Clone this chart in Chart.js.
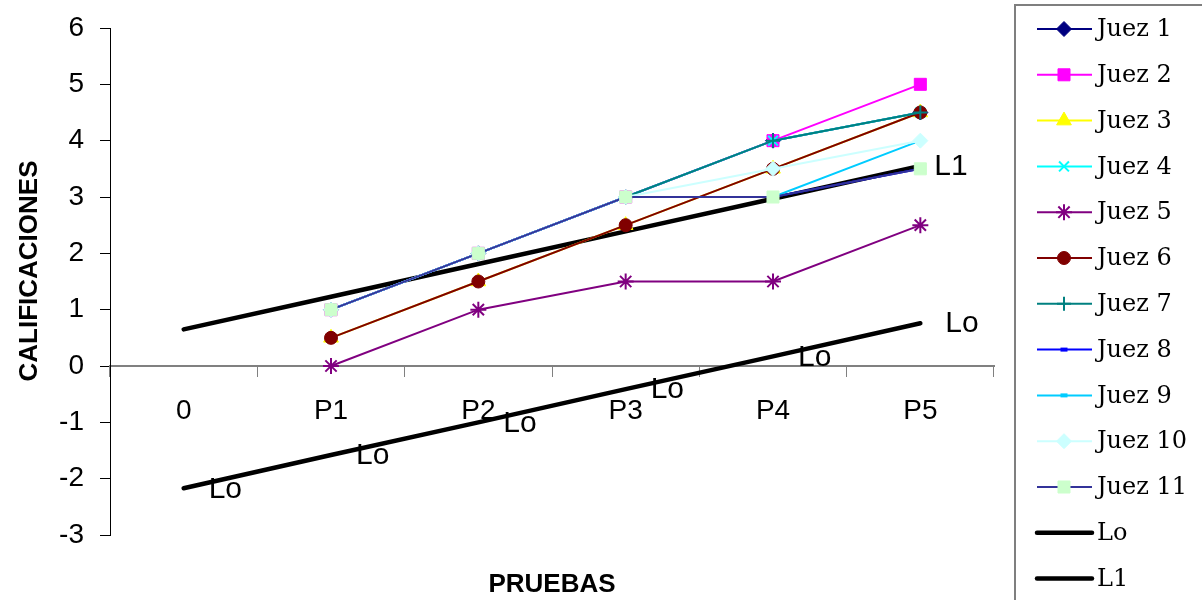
<!DOCTYPE html>
<html lang="es">
<head>
<meta charset="utf-8">
<title>Calificaciones por prueba</title>
<script src="https://cdn.jsdelivr.net/npm/chart.js@4/dist/chart.umd.min.js"></script>
<style>
  html, body { margin: 0; padding: 0; background: #fff; }
  #wrap { width: 1202px; height: 600px; position: relative; }
</style>
</head>
<body>
<div id="wrap"><canvas id="chart" width="1202" height="600"></canvas></div>
<script>
// Categorías del eje X
const pruebas = ['0', 'P1', 'P2', 'P3', 'P4', 'P5'];

// Calificaciones de cada juez (sin valor en la categoría 0)
const juez1  = [null, 1, 2, 3, 4, 4.5];
const juez2  = [null, 1, 2, 3, 4, 5];
const juez3  = [null, 0.5, 1.5, 2.5, 3.5, 4.5];
const juez4  = [null, 1, 2, 3, 4, 4.5];
const juez5  = [null, 0, 1, 1.5, 1.5, 2.5];
const juez6  = [null, 0.5, 1.5, 2.5, 3.5, 4.5];
const juez7  = [null, 1, 2, 3, 4, 4.5];
const juez8  = [null, 1, 2, 3, 3, 3.5];
const juez9  = [null, 1, 2, 3, 3, 4];
const juez10 = [null, 1, 2, 3, 3.5, 4];
const juez11 = [null, 1, 2, 3, 3, 3.5];

// Líneas límite
const lineaLo = [-2.17, -1.58, -1.0, -0.41, 0.17, 0.76];
const lineaL1 = [0.65, 1.23, 1.81, 2.39, 2.97, 3.55];

// Etiquetas de datos de las líneas límite
const etiquetasLo = ['Lo', 'Lo', 'Lo', 'Lo', 'Lo', 'Lo'];
const etiquetasL1 = ['', '', '', '', '', 'L1'];

// Marcas del eje Y
const yMin = -3, yMax = 6, yPaso = 1;

const SANS = "'Liberation Sans', Arial, sans-serif";
const SERIF = "'DejaVu Serif', 'Liberation Serif', serif";

function juez(label, data, color, style, radius, fill, idx, extra) {
  return Object.assign({
    label, data,
    borderColor: color,
    backgroundColor: fill || color,
    borderWidth: 2,
    pointStyle: style,
    pointRadius: radius,
    pointHoverRadius: radius,
    pointBackgroundColor: fill || color,
    pointBorderColor: fill || color,
    pointBorderWidth: 1,
    tension: 0,
    spanGaps: false,
    order: 50 - idx
  }, extra || {});
}

const datasets = [
  juez('Juez 1', juez1, '#000080', 'rectRot', 7.5, null, 1),
  juez('Juez 2', juez2, '#FF00FF', 'rect', 8.5, null, 2),
  juez('Juez 3', juez3, '#FFFF00', 'triangle', 8.5, null, 3),
  juez('Juez 4', juez4, '#00FFFF', 'crossRot', 7, null, 4, { pointBorderWidth: 2 }),
  juez('Juez 5', juez5, '#800080', 'star', 8, null, 5, { pointBorderWidth: 2 }),
  juez('Juez 6', juez6, '#800000', 'circle', 6.5, null, 6),
  juez('Juez 7', juez7, '#008080', 'cross', 7, null, 7, { pointBorderWidth: 2 }),
  juez('Juez 8', juez8, '#0000FF', 'line', 3.5, null, 8, { pointBorderWidth: 4 }),
  juez('Juez 9', juez9, '#00CCFF', 'line', 3.5, null, 9, { pointBorderWidth: 4 }),
  juez('Juez 10', juez10, '#CCFFFF', 'rectRot', 7.5, null, 10),
  juez('Juez 11', juez11, '#333399', 'rect', 8.5, '#CCFFCC', 11),
  { label: 'Lo', data: lineaLo, borderColor: '#000', backgroundColor: '#000', borderWidth: 4.5,
    pointRadius: 0, pointHoverRadius: 0, tension: 0, order: 100, etiquetas: etiquetasLo, desplazamiento: 25,
    borderCapStyle: 'round' },
  { label: 'L1', data: lineaL1, borderColor: '#000', backgroundColor: '#000', borderWidth: 4.5,
    pointRadius: 0, pointHoverRadius: 0, tension: 0, order: 100, etiquetas: etiquetasL1, desplazamiento: 14,
    borderCapStyle: 'round' }
];

// Etiquetas de datos "Lo" / "L1" junto a cada punto de las líneas límite
const etiquetasPlugin = {
  id: 'etiquetasLimite',
  afterDatasetsDraw(chart) {
    const ctx = chart.ctx;
    ctx.save();
    ctx.font = '30px ' + SANS;
    ctx.fillStyle = '#000';
    ctx.textAlign = 'left';
    ctx.textBaseline = 'middle';
    chart.data.datasets.forEach((ds, i) => {
      if (!ds.etiquetas) return;
      const meta = chart.getDatasetMeta(i);
      meta.data.forEach((pt, j) => {
        const txt = ds.etiquetas[j];
        if (txt) ctx.fillText(txt, pt.x + ds.desplazamiento, pt.y + 1);
      });
    });
    ctx.restore();
  }
};

// Títulos de los ejes
const titulosPlugin = {
  id: 'titulosEjes',
  afterDraw(chart) {
    const ctx = chart.ctx;
    ctx.save();
    ctx.fillStyle = '#000';
    ctx.font = 'bold 26px ' + SANS;
    ctx.textAlign = 'center';
    ctx.textBaseline = 'middle';
    ctx.fillText('PRUEBAS', 552, 585);
    ctx.translate(30, 271);
    ctx.rotate(-Math.PI / 2);
    ctx.fillText('CALIFICACIONES', 0, 0);
    ctx.restore();
  }
};

// Leyenda en recuadro a la derecha
const leyendaPlugin = {
  id: 'leyendaRecuadro',
  afterDraw(chart) {
    const ctx = chart.ctx;
    ctx.save();
    ctx.strokeStyle = '#7f7f7f';
    ctx.lineWidth = 2;
    ctx.strokeRect(1015, 5, 240, 640);
    const y0 = 29, paso = 45.8;
    chart.data.datasets.forEach((ds, i) => {
      const y = y0 + i * paso;
      ctx.strokeStyle = ds.borderColor;
      ctx.lineWidth = ds.borderWidth;
      ctx.lineCap = ds.label === 'Lo' || ds.label === 'L1' ? 'round' : 'butt';
      ctx.beginPath();
      ctx.moveTo(1037, y);
      ctx.lineTo(1092, y);
      ctx.stroke();
      if (ds.pointRadius > 0) {
        ctx.fillStyle = ds.pointBackgroundColor;
        ctx.strokeStyle = ds.pointBorderColor;
        ctx.lineWidth = ds.pointBorderWidth;
        ctx.lineCap = 'butt';
        Chart.helpers.drawPoint(ctx, {
          pointStyle: ds.pointStyle, radius: ds.pointRadius, rotation: 0,
          borderWidth: ds.pointBorderWidth
        }, 1064, y);
      }
      ctx.fillStyle = '#000';
      ctx.font = '24px ' + SERIF;
      ctx.textAlign = 'left';
      ctx.textBaseline = 'middle';
      ctx.fillText(ds.label, 1097, y + 1);
    });
    ctx.restore();
  }
};

new Chart(document.getElementById('chart'), {
  type: 'line',
  data: { labels: pruebas, datasets },
  options: {
    responsive: false,
    animation: false,
    events: [],
    layout: { padding: { left: 0, top: 28, right: 208, bottom: 65 } },
    plugins: { legend: { display: false }, tooltip: { enabled: false }, title: { display: false } },
    scales: {
      x: {
        type: 'category',
        position: { y: 0 },
        offset: true,
        grid: { display: true, drawOnChartArea: false, drawTicks: true, tickLength: 10,
                color: '#808080', lineWidth: 1, offset: true },
        border: { display: true, color: '#808080', width: 2 },
        ticks: { color: '#000', font: { family: SANS, size: 28 }, padding: 18,
                 maxRotation: 0, autoSkip: false },
        afterFit(scale) { scale.height = 0; }
      },
      y: {
        min: yMin, max: yMax,
        grid: { display: true, drawOnChartArea: false, drawTicks: true, tickLength: 10,
                color: '#000', lineWidth: 1 },
        border: { display: true, color: '#000', width: 1 },
        ticks: { stepSize: yPaso, color: '#000', font: { family: SANS, size: 28 }, padding: 16 },
        afterFit(scale) {
          scale.width = 110;
          scale.paddingTop = 0;
          scale.paddingBottom = 0;
        }
      }
    }
  },
  plugins: [etiquetasPlugin, titulosPlugin, leyendaPlugin]
});
</script>
</body>
</html>
